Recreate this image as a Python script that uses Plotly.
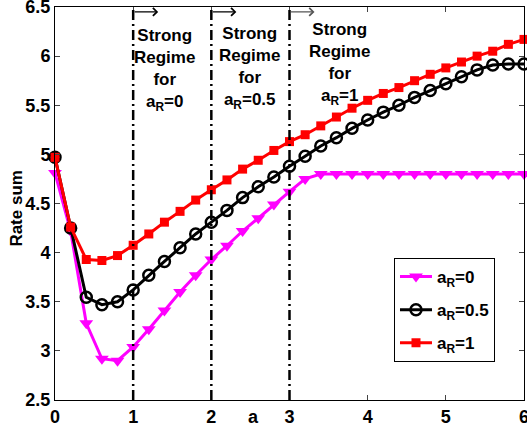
import plotly.graph_objects as go

# ---------------- data ----------------
a_vals = [0.0, 0.2, 0.4, 0.6, 0.8, 1.0, 1.2, 1.4, 1.6, 1.8, 2.0, 2.2, 2.4, 2.6, 2.8, 3.0,
          3.2, 3.4, 3.6, 3.8, 4.0, 4.2, 4.4, 4.6, 4.8, 5.0, 5.2, 5.4, 5.6, 5.8, 6.0]

rate_aR0 = [4.81, 4.22, 3.28, 2.92, 2.90, 3.04, 3.22, 3.41, 3.60, 3.77, 3.93, 4.07, 4.22, 4.35, 4.49, 4.62,
            4.75, 4.80, 4.80, 4.80, 4.80, 4.80, 4.80, 4.80, 4.80, 4.80, 4.80, 4.80, 4.80, 4.80, 4.80]

rate_aR05 = [4.97, 4.25, 3.545, 3.47, 3.50, 3.62, 3.77, 3.91, 4.05, 4.19, 4.31, 4.43, 4.56, 4.67, 4.77, 4.88,
             4.98, 5.085, 5.17, 5.265, 5.35, 5.43, 5.50, 5.58, 5.65, 5.72, 5.79, 5.86, 5.91, 5.92, 5.92]

rate_aR1 = [4.97, 4.26, 3.93, 3.92, 3.97, 4.075, 4.19, 4.31, 4.42, 4.535, 4.64, 4.74, 4.85, 4.94, 5.04, 5.13,
            5.20, 5.29, 5.38, 5.47, 5.55, 5.62, 5.68, 5.75, 5.815, 5.88, 5.94, 6.00, 6.05, 6.12, 6.17]

series_names = ["a<sub>R</sub>=0", "a<sub>R</sub>=0.5", "a<sub>R</sub>=1"]

regime_x = [1, 2, 3]
regime_labels = ["Strong<br>Regime<br>for<br>a<sub>R</sub>=0",
                 "Strong<br>Regime<br>for<br>a<sub>R</sub>=0.5",
                 "Strong<br>Regime<br>for<br>a<sub>R</sub>=1"]
regime_label_x = [1.40, 2.49, 3.64]
regime_label_top = [0.957, 0.962, 0.973]
arrow_len = 0.32

x_ticks = [0, 1, 2, 3, 4, 5, 6]
y_ticks = [2.5, 3, 3.5, 4, 4.5, 5, 5.5, 6, 6.5]
y_ticktext = ["2.5", "3", "3.5", "4", "4.5", "5", "5.5", "6", "6.5"]

FONT = "Liberation Sans, Arial, sans-serif"

fig = go.Figure()

fig.add_trace(go.Scatter(
    x=a_vals, y=rate_aR0, name=series_names[0], mode="lines+markers", legendgroup="g0",
    line=dict(color="#ff00ff", width=3),
    marker=dict(symbol="triangle-down", size=12, color="#ff00ff"),
    cliponaxis=False,
))
fig.add_trace(go.Scatter(
    x=a_vals, y=rate_aR05, name=series_names[1], mode="lines+markers", legendgroup="g1",
    line=dict(color="black", width=3),
    marker=dict(symbol="circle-open", size=11, color="black", line=dict(width=2.5, color="black")),
    cliponaxis=False,
))
fig.add_trace(go.Scatter(
    x=a_vals, y=rate_aR1, name=series_names[2], mode="lines+markers", legendgroup="g2",
    line=dict(color="#ff0000", width=3),
    marker=dict(symbol="square", size=9, color="#ff0000"),
    cliponaxis=False,
))

# regime separator lines
for xv in regime_x:
    fig.add_shape(type="line", xref="x", yref="paper", x0=xv, x1=xv, y0=0, y1=1,
                  line=dict(color="black", width=2.5, dash="10px,4px,2px,4px"))

# arrows
for i, xv in enumerate(regime_x):
    fig.add_annotation(x=xv + arrow_len, y=6.45, ax=xv, ay=6.45, xref="x", yref="y",
                       axref="x", ayref="y", text="", showarrow=True,
                       arrowhead=4, arrowsize=1.3, arrowwidth=1.2,
                       arrowcolor="black" if i < 2 else "#555555")

# labels
for lx, ly, txt in zip(regime_label_x, regime_label_top, regime_labels):
    fig.add_annotation(x=lx, y=ly, xref="x", yref="paper", text=txt, showarrow=False,
                       xanchor="center", yanchor="top", align="center",
                       font=dict(family=FONT, size=17, color="black", weight="bold"))

# x-axis label
fig.add_annotation(x=2.54, y=-0.042, xref="x", yref="paper", text="a", showarrow=False,
                   xanchor="center", yanchor="middle",
                   font=dict(family=FONT, size=18, color="black", weight="bold"))

# y-axis label
fig.add_annotation(x=-0.084, y=0.4885, xref="paper", yref="paper", text="Rate sum",
                   showarrow=False, textangle=-90, xanchor="center", yanchor="middle",
                   font=dict(family=FONT, size=17, color="black", weight="bold"))

fig.update_layout(
    width=527, height=430,
    margin=dict(l=55, r=3, t=7, b=30, autoexpand=False),
    paper_bgcolor="white", plot_bgcolor="white",
    font=dict(family=FONT, size=18, color="black"),
    showlegend=True,
    legend=dict(x=0.7228, y=0.3613, xanchor="left", yanchor="top",
                bordercolor="black", borderwidth=1, bgcolor="white",
                traceorder="grouped", tracegroupgap=8,
                font=dict(family=FONT, size=17, color="black", weight="bold"),
                itemwidth=32),
    xaxis=dict(range=[0, 6], tickvals=x_ticks, ticks="inside", ticklen=5,
               showline=True, linecolor="black", linewidth=1, mirror="ticks",
               showgrid=False, zeroline=False, automargin=False,
               ticklabeloverflow="allow",
               tickfont=dict(family=FONT, size=18, color="black", weight="bold")),
    yaxis=dict(range=[2.5, 6.5], tickvals=y_ticks, ticktext=y_ticktext, ticks="inside", ticklen=5,
               showline=True, linecolor="black", linewidth=1, mirror="ticks",
               showgrid=False, zeroline=False, automargin=False,
               ticklabeloverflow="allow",
               tickfont=dict(family=FONT, size=18, color="black", weight="bold")),
)

fig.write_html("out.html", config={"displayModeBar": False},
               post_script="document.body.style.margin='0';document.body.style.overflow='hidden';")
